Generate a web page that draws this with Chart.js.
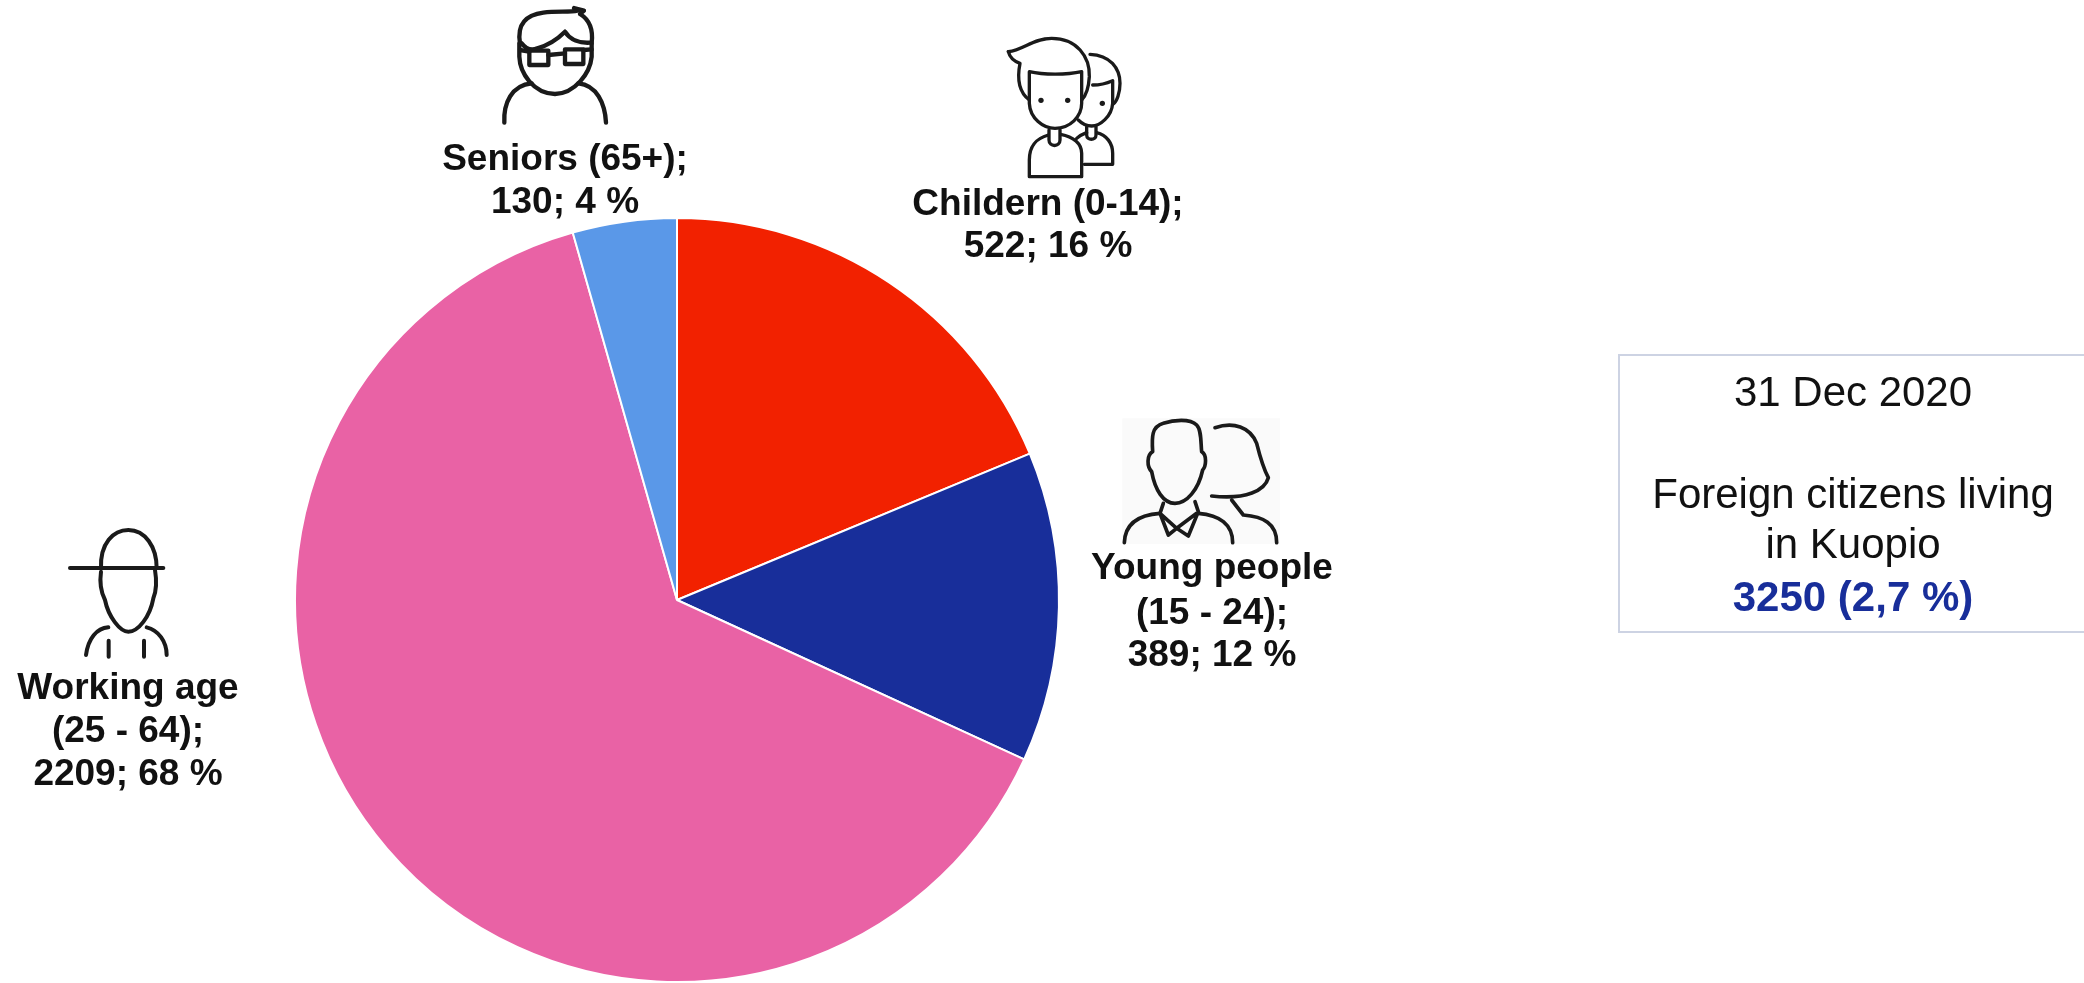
<!DOCTYPE html>
<html>
<head>
<meta charset="utf-8">
<title>Foreign citizens living in Kuopio</title>
<script src="https://cdn.jsdelivr.net/npm/chart.js@4/dist/chart.umd.min.js"></script>
<style>
  html, body { margin: 0; padding: 0; background: #fff; overflow: hidden; }
  canvas { display: block; }
</style>
</head>
<body>
<canvas id="pie" width="2084" height="983"></canvas>
<script>
const categories = ['Childern (0-14)', 'Young people (15 - 24)', 'Working age (25 - 64)', 'Seniors (65+)'];

// numbers printed in the labels
const printedCounts = [522, 389, 2209, 130];
const printedPercents = [16, 12, 68, 4];

// slice sizes measured off the drawn pie, they do not follow the printed numbers
const sliceValues = [609, 426, 2072, 143];

const labelWraps = [
    ['Childern (0-14);'],
    ['Young people', '(15 - 24);'],
    ['Working age', '(25 - 64);'],
    ['Seniors (65+);']
];

const infoDate = '31 Dec 2020';
const infoLines = ['Foreign citizens living', 'in Kuopio'];
const infoTotal = '3250 (2,7 %)';

const sliceColors = ['#f22100', '#182e9a', '#e962a5', '#5a98e8'];
const inkColor = '#111111';
const labelFont = 'bold 37px "Liberation Sans", Arial, sans-serif';
const infoFont = '42px "Liberation Sans", Arial, sans-serif';
const infoBoldFont = 'bold 42px "Liberation Sans", Arial, sans-serif';

// label centre x and baselines per category
const labelSpots = [
    { x: 1048, y: [215, 257] },
    { x: 1212, y: [579, 624, 666] },
    { x: 128, y: [699, 742, 785] },
    { x: 565, y: [170, 213] }
];

// icons, each one drawn in a 3x grid from its origin
const icons = [
    {   // seniors
        x: 420, y: 0, width: 13,
        paths: [
            'M300 130C290 70 320 45 370 38C410 32 450 38 472 32L462 24L492 32L480 42C510 60 520 90 515 130',
            'M305 130C320 150 340 150 352 145C385 135 415 115 435 95C450 120 480 130 510 128',
            'M298 130L298 170C300 220 340 280 405 282C465 280 510 220 515 170L515 130',
            'M328 152L385 152L385 195L328 195ZM435 148L490 148L490 192L435 192Z',
            'M385 165L435 160M300 150L328 155M490 150L515 148',
            'M253 368C250 310 275 255 335 250M475 250C530 255 555 310 558 368'
        ]
    },
    {   // children
        x: 900, y: 20, width: 10,
        paths: [
            'M325 95C370 90 400 55 455 55C530 55 570 110 568 170C566 205 555 230 545 240',
            'M325 95C330 115 345 125 360 130C352 170 355 215 388 240',
            'M388 155C430 165 500 165 545 155L545 250C545 290 510 325 465 325C430 325 390 295 388 250Z',
            'M447 330L447 360C447 382 480 382 480 360L480 330',
            'M445 345C410 355 388 375 388 420L388 470L545 470L545 400C545 370 520 350 482 343',
            'M570 103C630 105 660 145 660 190C660 220 650 245 640 252',
            'M578 195C600 195 620 190 638 182L638 250C635 290 600 318 575 318C560 318 545 310 535 300',
            'M560 320L560 345C560 362 588 362 588 345L588 320',
            'M530 355C540 345 550 342 560 338M590 338C620 345 638 370 638 400L638 433L553 433'
        ],
        dots: [[423, 241], [503, 241], [607, 250]]
    },
    {   // young people
        x: 1080, y: 400, width: 11, backdrop: [127, 55, 473, 377],
        paths: [
            'M218 155C215 110 215 80 250 70C280 60 330 55 350 75C365 90 362 130 365 155C382 165 378 200 368 210C355 270 320 310 285 310C250 310 225 270 215 215C200 200 200 165 218 155Z',
            'M250 310L240 340L265 405L290 385L325 408L355 335L345 305M240 340L290 385L350 340',
            'M133 428C135 375 170 345 240 340M355 340C420 345 458 375 458 428',
            'M405 83C460 65 510 80 530 130C540 170 550 205 565 233C555 270 500 300 395 288',
            'M455 300L490 345C550 350 590 370 590 428'
        ]
    },
    {   // working age
        x: 0, y: 510, width: 12,
        paths: [
            'M303 175C300 100 340 60 385 60C435 60 470 110 470 175',
            'M210 174L490 174',
            'M303 185C298 220 305 250 315 270C325 320 360 365 385 365C415 365 450 320 460 265C470 240 470 210 465 180',
            'M258 435C265 385 290 355 325 352M440 352C475 360 500 395 500 435',
            'M326 392L326 440M432 392L432 440'
        ]
    }
];

const infoBox = { x: 1619, y: 355, right: 2090, bottom: 632, textX: 1853 };

const drawIcon = (ctx, icon) => {
    ctx.save();
    ctx.translate(icon.x, icon.y);
    ctx.scale(1 / 3, 1 / 3);
    if (icon.backdrop) {
        ctx.fillStyle = '#fafafa';
        ctx.fillRect(...icon.backdrop);
    }
    ctx.filter = 'blur(0.5px)';
    ctx.strokeStyle = '#1a1a1a';
    ctx.fillStyle = '#1a1a1a';
    ctx.lineWidth = icon.width;
    ctx.lineCap = 'round';
    ctx.lineJoin = 'round';
    icon.paths.forEach(d => ctx.stroke(new Path2D(d)));
    (icon.dots || []).forEach(([x, y]) => {
        ctx.beginPath();
        ctx.arc(x, y, 8, 0, Math.PI * 2);
        ctx.fill();
    });
    ctx.restore();
};

const sideNotes = {
    id: 'sideNotes',
    afterDraw(chart) {
        const ctx = chart.ctx;
        ctx.save();

        icons.forEach(icon => drawIcon(ctx, icon));

        ctx.textAlign = 'center';
        ctx.textBaseline = 'alphabetic';
        ctx.fillStyle = inkColor;
        ctx.font = labelFont;
        categories.forEach((name, i) => {
            const lines = [...labelWraps[i], `${printedCounts[i]}; ${printedPercents[i]} %`];
            lines.forEach((line, n) => ctx.fillText(line, labelSpots[i].x, labelSpots[i].y[n]));
        });

        ctx.strokeStyle = '#cdd3e3';
        ctx.lineWidth = 2;
        ctx.strokeRect(infoBox.x, infoBox.y, infoBox.right - infoBox.x, infoBox.bottom - infoBox.y);

        ctx.font = infoFont;
        ctx.fillText(infoDate, infoBox.textX, 406);
        ctx.fillText(infoLines[0], infoBox.textX, 508);
        ctx.fillText(infoLines[1], infoBox.textX, 558);
        ctx.font = infoBoldFont;
        ctx.fillStyle = sliceColors[1];
        ctx.fillText(infoTotal, infoBox.textX, 611);

        ctx.restore();
    }
};

new Chart(document.getElementById('pie'), {
    type: 'pie',
    data: {
        labels: categories,
        datasets: [{
            data: sliceValues,
            backgroundColor: sliceColors,
            borderColor: '#ffffff',
            borderWidth: 2
        }]
    },
    options: {
        responsive: false,
        animation: false,
        layout: { padding: { left: 294, right: 1024, top: 217, bottom: 0 } },
        plugins: {
            legend: { display: false },
            tooltip: { enabled: false }
        }
    },
    plugins: [sideNotes]
});
</script>
</body>
</html>
